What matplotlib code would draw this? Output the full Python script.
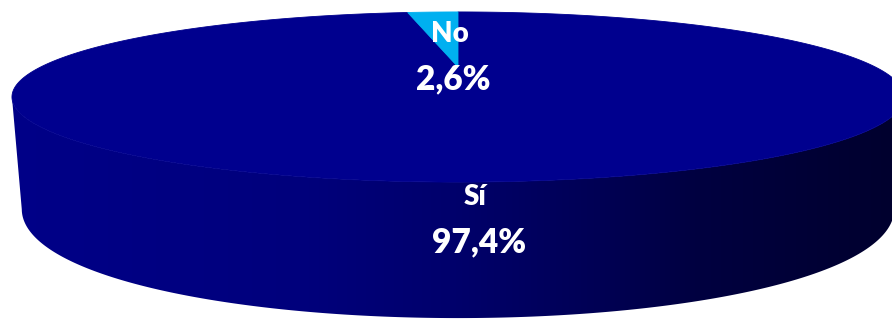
import numpy as np
import matplotlib
matplotlib.use("Agg")
import matplotlib.pyplot as plt
from matplotlib.patches import Polygon

# Survey answers and their shares (percent)
categories = ["Sí", "No"]
shares = [97.4, 2.6]
slice_colors = ["#00008E", "#00B0F0"]

# label anchors: centre x and baseline y of the value line (pixels)
label_pos = [(479, 252), (453.5, 89)]

W, H = 892, 320
fig = plt.figure(figsize=(W / 100, H / 100), dpi=100)
ax = fig.add_axes([0, 0, 1, 1])
ax.set_xlim(0, W)
ax.set_ylim(H, 0)
ax.axis("off")

# perspective view of a flat cylinder (unit radius) seen from slightly above
phi = np.radians(10.28)
sphi, cphi = np.sin(phi), np.cos(phi)
dist = 2.789
focal = 1164.0
cx, cy = 458.0, 67.0


def top_point(theta):
    X, Y = np.cos(theta), np.sin(theta)
    depth = dist + Y * cphi
    return cx + focal * X / depth, cy - focal * Y * sphi / depth


def bottom_point(theta):
    x, y = top_point(theta)
    h = 99.0 + 37.0 * (-np.sin(theta))
    return cx + (x - cx) * 0.978, y + h


# side wall outline: front arc of the rim, its silhouette corners and the base arc
th = np.linspace(np.pi, 2 * np.pi, 721)
tx, ty = top_point(th)
bx, by = bottom_point(th)
i_tl, i_tr = np.argmin(tx), np.argmax(tx)
i_bl, i_br = np.argmin(bx), np.argmax(bx)
outline = list(zip(tx[i_tl:i_tr + 1], ty[i_tl:i_tr + 1]))
outline += list(zip(bx[i_bl:i_br + 1], by[i_bl:i_br + 1]))[::-1]
wall = Polygon(outline, closed=True, facecolor="none", edgecolor="none")
ax.add_patch(wall)

# horizontal shading of the wall, lit from the left
shade_x = [12, 300, 450, 600, 700, 892]
shade_b = [136, 124, 108, 84, 64, 46]
gx = np.arange(W) + 0.5
blue = np.interp(gx, shade_x, shade_b) / 255.0
grad = np.zeros((1, W, 3))
grad[0, :, 2] = blue
img = ax.imshow(grad, extent=(0, W, H, 0), aspect="auto", interpolation="bilinear", zorder=1)
img.set_clip_path(wall)

# top face: slices clockwise from 12 o'clock, first category first
total = sum(shares)
start = np.pi / 2
for val, col in zip(shares, slice_colors):
    sweep = 2 * np.pi * val / total
    ang = np.linspace(start, start - sweep, max(int(val * 8), 12))
    pts = [(cx, cy)] + [top_point(t) for t in ang]
    ax.add_patch(Polygon(pts, closed=True, facecolor=col, edgecolor=col,
                         linewidth=0.6, zorder=2))
    start -= sweep

ax.set_xlim(0, W)
ax.set_ylim(H, 0)

# data labels: category name above its percentage
font = ["Lato", "DejaVu Sans"]
for name, val, (lx, ly) in zip(categories, shares, label_pos):
    pct = f"{val:.1f}".replace(".", ",") + "%"
    ax.text(lx, ly, pct, ha="center", va="baseline", color="white",
            fontsize=24, fontweight="heavy", family=font, zorder=3)
    ax.text(lx - 4, ly - 47, name, ha="center", va="baseline", color="white",
            fontsize=20, fontweight="heavy", family=font, zorder=3)

fig.savefig("out.png", dpi=100)
